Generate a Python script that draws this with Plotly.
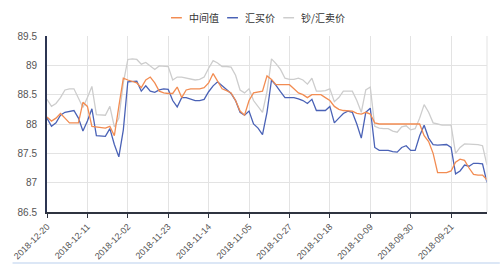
import datetime as dt
import plotly.graph_objects as go

# dates from 2018-12-20 back to 2018-09-13 (daily, reversed)
start = dt.date(2018, 12, 20)
dates = [(start - dt.timedelta(days=k)).isoformat() for k in range(99)]

series_names = ["中间值", "汇买价", "钞/汇卖价"]
series_colors = ["#f28c52", "#4a62b6", "#cdcdcd"]

mid = [88.12, 88.05, 88.10, 88.18, 88.10, 88.02, 88.02, 88.02, 88.37, 88.30,
       87.96, 87.95, 87.93, 87.93, 87.96, 87.80, 88.30, 88.78, 88.75, 88.72,
       88.70, 88.62, 88.75, 88.80, 88.70, 88.56, 88.53, 88.52, 88.52, 88.63,
       88.45, 88.58, 88.60, 88.60, 88.60, 88.62, 88.70, 88.86, 88.73, 88.60,
       88.57, 88.53, 88.40, 88.22, 88.15, 88.40, 88.53, 88.55, 88.56, 88.82,
       88.76, 88.67, 88.67, 88.67, 88.67, 88.60, 88.53, 88.50, 88.45, 88.50,
       88.50, 88.50, 88.45, 88.40, 88.30, 88.25, 88.23, 88.23, 88.22, 88.18,
       88.17, 88.20, 88.17, 88.02, 88.00, 88.00, 88.00, 88.00, 88.00, 88.00,
       88.00, 88.00, 88.00, 88.00, 87.80, 87.70, 87.50, 87.17, 87.17, 87.17,
       87.20, 87.35, 87.40, 87.38, 87.25, 87.14, 87.13, 87.13, 87.05]

buy = [88.10, 87.96, 88.02, 88.15, 88.20, 88.22, 88.23, 88.10, 87.88, 88.05,
       88.26, 87.80, 87.79, 87.79, 87.92, 87.65, 87.44, 87.90, 88.72, 88.73,
       88.73, 88.56, 88.65, 88.56, 88.54, 88.58, 88.60, 88.59, 88.40, 88.29,
       88.45, 88.45, 88.43, 88.40, 88.40, 88.42, 88.55, 88.65, 88.72, 88.65,
       88.58, 88.52, 88.40, 88.20, 88.15, 88.22, 88.00, 87.93, 87.82, 88.20,
       88.75, 88.66, 88.55, 88.45, 88.45, 88.45, 88.43, 88.40, 88.35, 88.42,
       88.23, 88.23, 88.23, 88.30, 88.02, 88.10, 88.18, 88.22, 88.20, 88.00,
       87.76, 88.20, 88.27, 87.60, 87.55, 87.55, 87.55, 87.53, 87.52, 87.60,
       87.63, 87.55, 87.55, 87.80, 87.98, 87.76, 87.65, 87.64, 87.64, 87.65,
       87.60, 87.15, 87.20, 87.30, 87.28, 87.33, 87.33, 87.32, 87.00]

sell = [88.42, 88.30, 88.35, 88.45, 88.58, 88.60, 88.60, 88.45, 88.28, 88.45,
        88.64, 88.16, 88.15, 88.15, 88.30, 87.95, 88.10, 88.70, 89.10, 89.11,
        89.10, 89.02, 89.05, 88.99, 88.93, 88.99, 88.99, 88.98, 88.75, 88.80,
        88.80, 88.78, 88.77, 88.75, 88.76, 88.80, 88.95, 89.08, 89.04, 88.98,
        88.98, 88.97, 88.83, 88.58, 88.53, 88.60, 88.40, 88.30, 88.20, 88.55,
        89.11, 89.03, 88.93, 88.78, 88.76, 88.76, 88.78, 88.75, 88.68, 88.78,
        88.56, 88.56, 88.57, 88.60, 88.38, 88.45, 88.56, 88.56, 88.56, 88.40,
        88.20, 88.58, 88.63, 87.96, 87.93, 87.92, 87.92, 87.88, 87.86, 87.95,
        87.97, 87.90, 87.92, 88.10, 88.33, 88.20, 88.02, 88.00, 87.98, 87.98,
        87.98, 87.50, 87.60, 87.66, 87.66, 87.66, 87.65, 87.63, 87.30]

tick_step = 9
tick_labels = dates[::tick_step]
y_ticks = [86.5, 87, 87.5, 88, 88.5, 89, 89.5]

W, H = 500, 273
ML, MR, MT, MB = 40, 13, 36, 54
PW, PH = W - ML - MR, H - MT - MB

fig = go.Figure()
# draw gray first, then blue, then orange
for name, vals, col in [(series_names[2], sell, series_colors[2]),
                        (series_names[1], buy, series_colors[1]),
                        (series_names[0], mid, series_colors[0])]:
    fig.add_trace(go.Scatter(x=dates, y=vals, mode="lines", name=name,
                             line=dict(color=col, width=1.3), showlegend=False))

fig.update_xaxes(type="category", range=[0, len(dates) - 1],
                 tickmode="array", tickvals=tick_labels, ticktext=tick_labels,
                 tickangle=-45, tickfont=dict(size=9, color="#555", family="Liberation Sans"),
                 showgrid=True, gridcolor="#e3e3e3", gridwidth=1,
                 showline=True, linecolor="#2f3440", linewidth=2,
                 ticks="outside", ticklen=4, tickcolor="#2f3440", zeroline=False)
fig.update_yaxes(range=[86.5, 89.5], tickmode="array", tickvals=y_ticks,
                 ticktext=[f"{v:g}" for v in y_ticks],
                 tickfont=dict(size=10, color="#555", family="Liberation Sans"),
                 showgrid=True, gridcolor="#e3e3e3", gridwidth=1,
                 showline=True, linecolor="#2c3552", linewidth=2, zeroline=False,
                 ticks="", ticklabelstandoff=6)

shapes = []
annotations = []
# right edge gridline
shapes.append(dict(type="line", xref="paper", yref="paper", x0=1, x1=1, y0=0, y1=1,
                   line=dict(color="#e3e3e3", width=1)))
# bottom light band line
shapes.append(dict(type="line", xref="paper", yref="paper",
                   x0=(5 - ML) / PW, x1=(W - ML) / PW,
                   y0=-(272 - (MT + PH)) / PH, y1=-(272 - (MT + PH)) / PH,
                   line=dict(color="#dce7f6", width=2)))

# manual legend
legend_x = [166, 223, 280]
ly = 1 + (MT - 17) / PH
for name, col, lx in zip(series_names, series_colors, legend_x):
    shapes.append(dict(type="line", xref="paper", yref="paper",
                       x0=(lx - ML) / PW, x1=(lx + 11 - ML) / PW, y0=ly, y1=ly,
                       line=dict(color=col, width=1.5)))
    annotations.append(dict(xref="paper", yref="paper", x=(lx + 16 - ML) / PW, y=ly,
                            xanchor="left", yanchor="middle", showarrow=False,
                            text=name, font=dict(size=10, color="#333",
                                                  family="Noto Sans CJK SC")))

fig.update_layout(width=W, height=H, margin=dict(l=ML, r=MR, t=MT, b=MB),
                  plot_bgcolor="white", paper_bgcolor="white",
                  shapes=shapes, annotations=annotations, showlegend=False)

fig.write_html("out.html", config={"displayModeBar": False})
